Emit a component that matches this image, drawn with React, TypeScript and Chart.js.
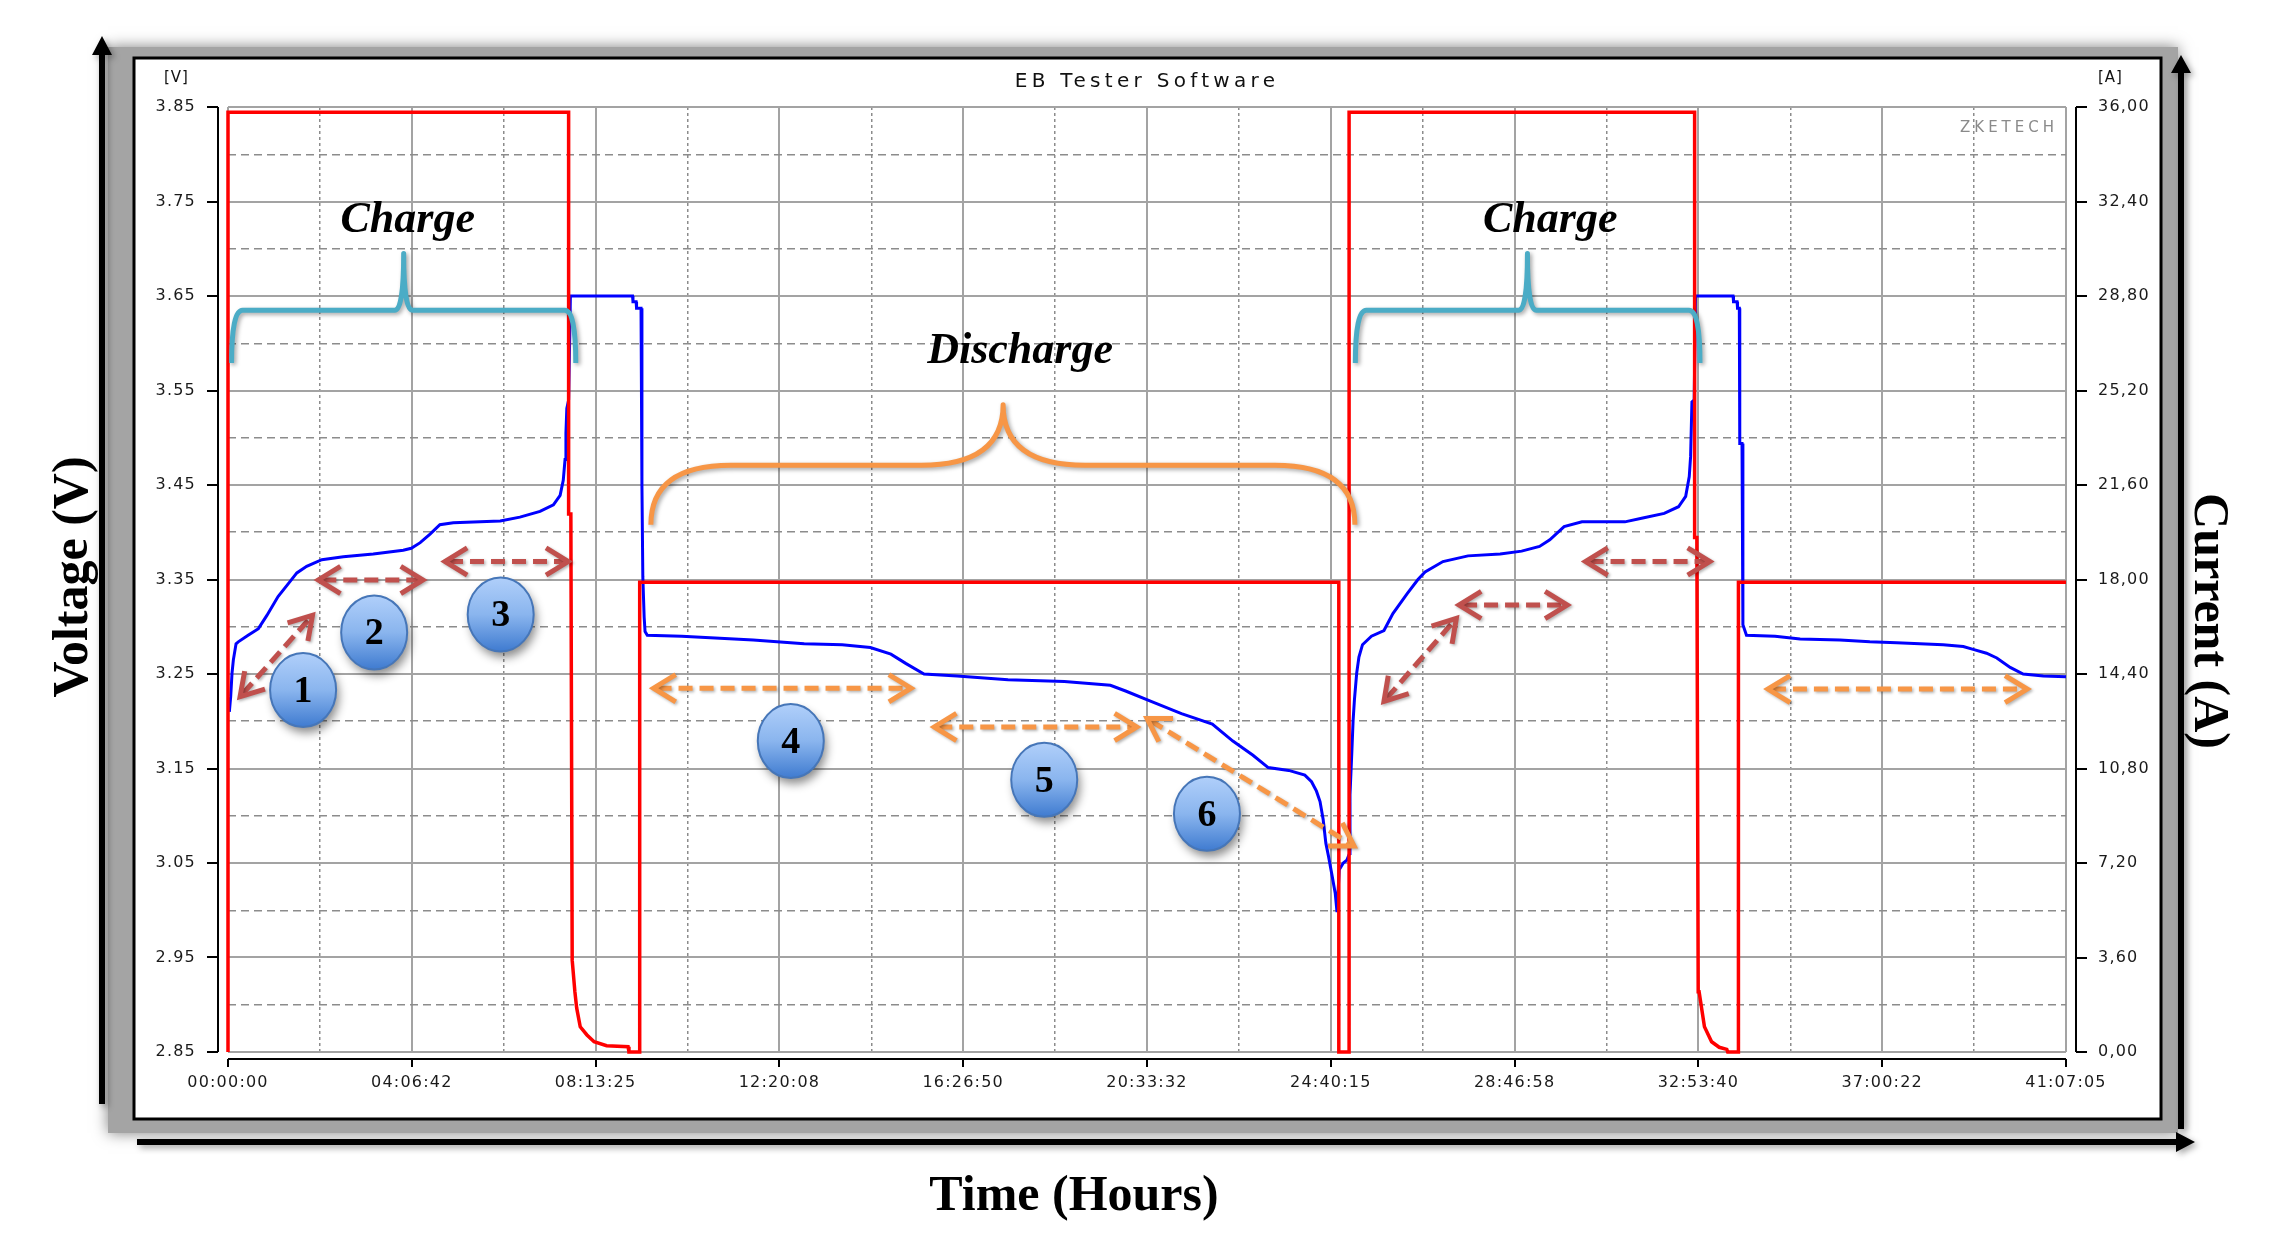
import React, { useEffect, useRef } from "react";
import { Chart, registerables } from "chart.js";

Chart.register(...registerables);

const W = 2280;
const H = 1240;

// ---------------- data ----------------
const TIME_TICK_LABELS = [
  "00:00:00", "04:06:42", "08:13:25", "12:20:08", "16:26:50", "20:33:32",
  "24:40:15", "28:46:58", "32:53:40", "37:00:22", "41:07:05",
];
const VOLT_TICKS = [2.85, 2.95, 3.05, 3.15, 3.25, 3.35, 3.45, 3.55, 3.65, 3.75, 3.85];
const CURRENT_TICKS = [0, 3.6, 7.2, 10.8, 14.4, 18, 21.6, 25.2, 28.8, 32.4, 36];

// voltage trace (hours, volts)
const VOLT_TIME_H = [
  0.03, 0.06, 0.09, 0.12, 0.18, 0.23, 0.45, 0.68, 0.87, 1.12, 1.39, 1.54, 1.76, 2.10, 2.58, 3.25,
  3.92, 4.10, 4.30, 4.52, 4.74, 5.04, 6.09, 6.53, 6.98, 7.28, 7.43, 7.50, 7.54, 7.56, 7.58, 7.62,
  7.66, 9.05, 9.06, 9.13, 9.14, 9.24, 9.26, 9.28, 9.31, 9.33, 9.38, 10.15, 11.75, 12.89, 13.74,
  14.37, 14.83, 15.17, 15.57, 16.31, 17.45, 18.71, 19.74, 20.08, 20.65, 21.33, 22.02, 22.48,
  22.93, 23.27, 23.73, 24.09, 24.24, 24.35, 24.43, 24.50, 24.56, 24.62, 24.69, 24.77, 24.81,
  24.86, 24.95, 25.03, 25.09, 25.10, 25.14, 25.17, 25.20, 25.25, 25.30, 25.38, 25.58, 25.86,
  26.06, 26.38, 26.62, 26.78, 27.18, 27.74, 28.46, 28.94, 29.34, 29.57, 29.89, 30.29, 31.25,
  31.65, 32.13, 32.45, 32.61, 32.69, 32.72, 32.75, 32.80, 32.83, 33.67, 33.68, 33.76, 33.77,
  33.81, 33.82, 33.87, 33.89, 33.97, 34.61, 35.17, 36.06, 36.73, 37.33, 38.37, 38.82, 39.04,
  39.34, 39.57, 39.87, 40.16, 40.61, 41.118,
];
const VOLT_V = [
  3.210, 3.226, 3.251, 3.265, 3.282, 3.284, 3.291, 3.298, 3.312, 3.332, 3.348, 3.357, 3.364, 3.371, 3.374, 3.377,
  3.381, 3.383, 3.389, 3.398, 3.408, 3.410, 3.412, 3.416, 3.422, 3.429, 3.439, 3.455, 3.477, 3.505, 3.531, 3.540,
  3.650, 3.650, 3.644, 3.644, 3.637, 3.637, 3.450, 3.353, 3.310, 3.295, 3.291, 3.290, 3.286, 3.282, 3.281,
  3.278, 3.271, 3.261, 3.250, 3.248, 3.244, 3.242, 3.238, 3.232, 3.221, 3.208, 3.197, 3.179,
  3.164, 3.151, 3.148, 3.143, 3.136, 3.126, 3.115, 3.096, 3.071, 3.057, 3.039, 3.018, 2.998,
  3.043, 3.050, 3.053, 3.060, 3.122, 3.166, 3.201, 3.223, 3.251, 3.268, 3.281, 3.290, 3.296,
  3.314, 3.335, 3.350, 3.358, 3.369, 3.375, 3.377, 3.380, 3.385, 3.392, 3.406, 3.411, 3.411,
  3.415, 3.420, 3.427, 3.438, 3.459, 3.480, 3.538, 3.540, 3.650, 3.650, 3.644, 3.644, 3.637,
  3.637, 3.494, 3.494, 3.302, 3.291, 3.290, 3.287, 3.286, 3.284, 3.283, 3.281, 3.279, 3.276,
  3.272, 3.267, 3.257, 3.250, 3.248, 3.247,
];

// current trace (hours, amps)
const CURR_TIME_H = [
  0, 0, 7.62, 7.62, 7.67, 7.70, 7.76, 7.80, 7.88, 8.03, 8.19, 8.47, 8.95, 8.97, 9.21, 9.21,
  24.85, 24.85, 25.08, 25.08, 32.81, 32.81, 32.86, 32.89, 32.91, 33.03, 33.19, 33.36, 33.53,
  33.55, 33.79, 33.79, 41.118,
];
const CURR_A = [
  0, 35.8, 35.8, 20.5, 20.5, 3.5, 2.3, 1.68, 0.96, 0.65, 0.39, 0.24, 0.2, 0, 0, 17.9,
  17.9, 0, 0, 35.8, 35.8, 19.6, 19.6, 2.3, 2.3, 0.96, 0.39, 0.18, 0.1,
  0, 0, 17.9, 17.9,
];

// annotation anchors (in data units: hours / volts)
const PHASE_LABELS = [
  { text: "Charge", t: 4.02, v: 3.718 },
  { text: "Charge", t: 29.58, v: 3.718 },
  { text: "Discharge", t: 17.72, v: 3.579 },
];
const BRACES = [
  { t1: 0.08, t2: 7.78, tm: 3.93, vBase: 3.635, vEnd: 3.579, vTip: 3.695, kind: "charge" },
  { t1: 25.22, t2: 32.93, tm: 29.07, vBase: 3.635, vEnd: 3.579, vTip: 3.695, kind: "charge" },
  { t1: 9.46, t2: 25.21, tm: 17.34, vBase: 3.471, vEnd: 3.408, vTip: 3.535, kind: "discharge" },
];
const ARROWS = [
  { t1: 0.27, v1: 3.226, t2: 1.89, v2: 3.312, kind: "charge" },
  { t1: 2.02, v1: 3.3495, t2: 4.36, v2: 3.3495, kind: "charge" },
  { t1: 4.855, v1: 3.369, t2: 7.61, v2: 3.369, kind: "charge" },
  { t1: 25.86, v1: 3.221, t2: 27.48, v2: 3.309, kind: "charge" },
  { t1: 27.54, v1: 3.323, t2: 29.96, v2: 3.323, kind: "charge" },
  { t1: 30.37, v1: 3.369, t2: 33.15, v2: 3.369, kind: "charge" },
  { t1: 9.52, v1: 3.235, t2: 15.28, v2: 3.235, kind: "discharge" },
  { t1: 15.8, v1: 3.194, t2: 20.33, v2: 3.194, kind: "discharge" },
  { t1: 20.56, v1: 3.203, t2: 25.19, v2: 3.068, kind: "discharge" },
  { t1: 34.45, v1: 3.234, t2: 40.25, v2: 3.234, kind: "discharge" },
];
const MARKERS = [
  { n: "1", t: 1.68, v: 3.233 },
  { n: "2", t: 3.27, v: 3.294 },
  { n: "3", t: 6.1, v: 3.313 },
  { n: "4", t: 12.59, v: 3.179 },
  { n: "5", t: 18.26, v: 3.138 },
  { n: "6", t: 21.9, v: 3.102 },
];

// ---------------- helpers ----------------
const hms = (s: string) => {
  const [h, m, sec] = s.split(":").map(Number);
  return h + m / 60 + sec / 3600;
};
const TIME_TICKS = TIME_TICK_LABELS.map(hms);
const T_MAX = TIME_TICKS[TIME_TICKS.length - 1];
const midpoints = (a: number[]) => a.slice(1).map((v, i) => (v + a[i]) / 2);
const TIME_MINOR = midpoints(TIME_TICKS);
const VOLT_MINOR = midpoints(VOLT_TICKS);

const TEAL = "#4bacc6";
const ORANGE = "#f79646";
const DARKRED = "#c0504d";

const TICK_FONT = { family: "'DejaVu Sans', sans-serif", size: 16 };
const SERIF = "'Liberation Serif', 'Times New Roman', serif";

function drawBrace(ctx: any, x1: number, x2: number, xm: number, yB: number, yE: number, yT: number, cw: number, mw: number, color: string) {
  ctx.save();
  ctx.strokeStyle = color;
  ctx.lineWidth = 5;
  ctx.lineCap = "butt";
  ctx.lineJoin = "round";
  ctx.shadowColor = "rgba(0,0,0,0.35)";
  ctx.shadowBlur = 4;
  ctx.shadowOffsetX = 2;
  ctx.shadowOffsetY = 2;
  ctx.beginPath();
  ctx.moveTo(x1, yE);
  ctx.quadraticCurveTo(x1, yB, x1 + cw, yB);
  ctx.lineTo(xm - mw, yB);
  ctx.quadraticCurveTo(xm, yB, xm, yT);
  ctx.quadraticCurveTo(xm, yB, xm + mw, yB);
  ctx.lineTo(x2 - cw, yB);
  ctx.quadraticCurveTo(x2, yB, x2, yE);
  ctx.stroke();
  ctx.restore();
}

function drawDoubleArrow(ctx: any, x1: number, y1: number, x2: number, y2: number, color: string) {
  const ang = Math.atan2(y2 - y1, x2 - x1);
  const L = 26;
  const A = 0.55;
  ctx.save();
  ctx.strokeStyle = color;
  ctx.lineWidth = 5;
  ctx.shadowColor = "rgba(0,0,0,0.3)";
  ctx.shadowBlur = 3;
  ctx.shadowOffsetX = 1.5;
  ctx.shadowOffsetY = 1.5;
  ctx.setLineDash([14, 7]);
  ctx.beginPath();
  ctx.moveTo(x1 + Math.cos(ang) * 4, y1 + Math.sin(ang) * 4);
  ctx.lineTo(x2 - Math.cos(ang) * 4, y2 - Math.sin(ang) * 4);
  ctx.stroke();
  ctx.setLineDash([]);
  ctx.lineJoin = "miter";
  ctx.lineCap = "butt";
  const head = (px: number, py: number, dir: number) => {
    ctx.beginPath();
    ctx.moveTo(px + L * Math.cos(dir + A), py + L * Math.sin(dir + A));
    ctx.lineTo(px, py);
    ctx.lineTo(px + L * Math.cos(dir - A), py + L * Math.sin(dir - A));
    ctx.stroke();
  };
  head(x1, y1, ang);
  head(x2, y2, ang + Math.PI);
  ctx.restore();
}

function drawMarker(ctx: any, cx: number, cy: number, label: string) {
  const rx = 33;
  const ry = 37;
  ctx.save();
  ctx.shadowColor = "rgba(0,0,0,0.45)";
  ctx.shadowBlur = 10;
  ctx.shadowOffsetX = 3;
  ctx.shadowOffsetY = 6;
  const g = ctx.createLinearGradient(cx, cy - ry, cx, cy + ry);
  g.addColorStop(0, "#b0cffa");
  g.addColorStop(0.5, "#8ab5ee");
  g.addColorStop(1, "#3f7bd0");
  ctx.fillStyle = g;
  ctx.beginPath();
  ctx.ellipse(cx, cy, rx, ry, 0, 0, Math.PI * 2);
  ctx.fill();
  ctx.shadowColor = "rgba(0,0,0,0)";
  ctx.lineWidth = 2;
  ctx.strokeStyle = "#4676b8";
  ctx.stroke();
  ctx.fillStyle = "#000";
  ctx.font = `bold 38px ${SERIF}`;
  (ctx as any).letterSpacing = "0px";
  ctx.textAlign = "center";
  ctx.textBaseline = "middle";
  ctx.fillText(label, cx, cy + 2);
  ctx.restore();
}

const decorPlugin = {
  id: "decor",
  beforeDraw(chart: any) {
    const ctx = chart.ctx;
    const a = chart.chartArea;
    const bl = a.left - 94;
    const bt = a.top - 49;
    const br = a.right + 95;
    const bb = a.bottom + 67;
    ctx.save();
    ctx.fillStyle = "#ffffff";
    ctx.fillRect(0, 0, chart.width, chart.height);
    // gray shadow band around the frame
    ctx.shadowColor = "rgba(0,0,0,0.5)";
    ctx.shadowBlur = 14;
    ctx.fillStyle = "#a4a4a4";
    ctx.fillRect(bl - 26, bt - 11, br + 17 - (bl - 26), bb + 14 - (bt - 11));
    ctx.shadowColor = "rgba(0,0,0,0)";
    ctx.shadowBlur = 0;
    ctx.fillStyle = "#ffffff";
    ctx.fillRect(bl, bt, br - bl, bb - bt);
    ctx.lineWidth = 3;
    ctx.strokeStyle = "#000";
    ctx.strokeRect(bl, bt, br - bl, bb - bt);
    // black axis arrows
    ctx.shadowColor = "rgba(0,0,0,0.35)";
    ctx.shadowBlur = 6;
    ctx.shadowOffsetX = 3;
    ctx.shadowOffsetY = 3;
    ctx.fillStyle = "#000";
    // left arrow
    const lx = bl - 32;
    ctx.beginPath();
    ctx.moveTo(lx - 3, bb - 15);
    ctx.lineTo(lx - 3, bt - 3);
    ctx.lineTo(lx - 10, bt - 3);
    ctx.lineTo(lx, bt - 22);
    ctx.lineTo(lx + 10, bt - 3);
    ctx.lineTo(lx + 3, bt - 3);
    ctx.lineTo(lx + 3, bb - 15);
    ctx.closePath();
    ctx.fill();
    // bottom arrow
    const by = bb + 23;
    ctx.beginPath();
    ctx.moveTo(bl + 3, by - 3);
    ctx.lineTo(br + 15, by - 3);
    ctx.lineTo(br + 15, by - 10);
    ctx.lineTo(br + 34, by);
    ctx.lineTo(br + 15, by + 10);
    ctx.lineTo(br + 15, by + 3);
    ctx.lineTo(bl + 3, by + 3);
    ctx.closePath();
    ctx.fill();
    // right arrow
    const rx = br + 20;
    ctx.beginPath();
    ctx.moveTo(rx - 3, bb + 10);
    ctx.lineTo(rx - 3, bt + 15);
    ctx.lineTo(rx - 10, bt + 15);
    ctx.lineTo(rx, bt - 3);
    ctx.lineTo(rx + 10, bt + 15);
    ctx.lineTo(rx + 3, bt + 15);
    ctx.lineTo(rx + 3, bb + 10);
    ctx.closePath();
    ctx.fill();
    ctx.restore();
    (ctx as any).letterSpacing = "1.2px";
  },
  afterDatasetsDraw(chart: any) {
    const ctx = chart.ctx;
    const sx = chart.scales.x;
    const sy = chart.scales.y;
    const px = (t: number) => sx.getPixelForValue(t);
    const py = (v: number) => sy.getPixelForValue(v);
    BRACES.forEach((b) => {
      const charge = b.kind === "charge";
      drawBrace(ctx, px(b.t1), px(b.t2), px(b.tm), py(b.vBase), py(b.vEnd), py(b.vTip),
        charge ? 11 : 80, charge ? 9 : 82, charge ? TEAL : ORANGE);
    });
    ARROWS.forEach((ar) => {
      drawDoubleArrow(ctx, px(ar.t1), py(ar.v1), px(ar.t2), py(ar.v2), ar.kind === "charge" ? DARKRED : ORANGE);
    });
    MARKERS.forEach((m) => drawMarker(ctx, px(m.t), py(m.v), m.n));
    ctx.save();
    (ctx as any).letterSpacing = "0px";
    ctx.fillStyle = "#000";
    ctx.font = `italic bold 44px ${SERIF}`;
    ctx.textAlign = "center";
    ctx.textBaseline = "alphabetic";
    PHASE_LABELS.forEach((p) => ctx.fillText(p.text, px(p.t), py(p.v)));
    ctx.restore();
  },
  afterDraw(chart: any) {
    const ctx = chart.ctx;
    const a = chart.chartArea;
    const sx = chart.scales.x;
    const sy = chart.scales.y;
    const sy1 = chart.scales.y1;
    ctx.save();
    // detached axis lines with tick marks
    ctx.strokeStyle = "#000";
    ctx.lineWidth = 2;
    ctx.beginPath();
    const lx = a.left - 10;
    ctx.moveTo(lx, a.top);
    ctx.lineTo(lx, a.bottom);
    VOLT_TICKS.forEach((v) => {
      const y = Math.round(sy.getPixelForValue(v));
      ctx.moveTo(lx - 11, y);
      ctx.lineTo(lx, y);
    });
    const rx = a.right + 10;
    ctx.moveTo(rx, a.top);
    ctx.lineTo(rx, a.bottom);
    CURRENT_TICKS.forEach((v) => {
      const y = Math.round(sy1.getPixelForValue(v));
      ctx.moveTo(rx, y);
      ctx.lineTo(rx + 11, y);
    });
    const by = a.bottom + 7;
    ctx.moveTo(a.left, by);
    ctx.lineTo(a.right, by);
    TIME_TICKS.forEach((t) => {
      const x = Math.round(sx.getPixelForValue(t));
      ctx.moveTo(x, by);
      ctx.lineTo(x, by + 8);
    });
    ctx.stroke();

    // header texts
    ctx.fillStyle = "#111";
    ctx.textBaseline = "middle";
    ctx.font = "20px 'DejaVu Sans', sans-serif";
    (ctx as any).letterSpacing = "4.3px";
    ctx.textAlign = "center";
    ctx.fillText("EB Tester Software", (a.left + a.right) / 2, a.top - 25);
    ctx.font = "15px 'DejaVu Sans', sans-serif";
    (ctx as any).letterSpacing = "1px";
    ctx.textAlign = "left";
    ctx.fillText("[V]", a.left - 64, a.top - 29);
    ctx.fillText("[A]", a.right + 32, a.top - 29);
    ctx.fillStyle = "#8a8a8a";
    ctx.font = "15px 'DejaVu Sans', sans-serif";
    (ctx as any).letterSpacing = "4px";
    ctx.textAlign = "right";
    ctx.fillText("ZKETECH", a.right - 8, a.top + 21);

    // axis titles
    (ctx as any).letterSpacing = "0px";
    ctx.fillStyle = "#000";
    ctx.font = `bold 50px ${SERIF}`;
    ctx.textAlign = "center";
    ctx.save();
    ctx.translate(a.left - 154, 577);
    ctx.rotate(-Math.PI / 2);
    ctx.fillText("Voltage (V)", 0, 0);
    ctx.restore();
    ctx.save();
    ctx.translate(a.right + 142, 621);
    ctx.rotate(Math.PI / 2);
    ctx.fillText("Current (A)", 0, 0);
    ctx.restore();
    ctx.fillText("Time (Hours)", (a.left + a.right) / 2 - 73, a.bottom + 145);
    ctx.restore();
  },
};

export default function App() {
  const ref = useRef<HTMLCanvasElement | null>(null);
  useEffect(() => {
    if (!ref.current) return;
    const voltage = VOLT_TIME_H.map((t, i) => ({ x: t, y: VOLT_V[i] }));
    const current = CURR_TIME_H.map((t, i) => ({ x: t, y: CURR_A[i] }));
    const majorGrid = { color: "#a3a3a3", lineWidth: 2, drawTicks: false };
    const chart = new Chart(ref.current, {
      type: "line",
      data: {
        datasets: [
          {
            label: "Current",
            data: current,
            yAxisID: "y1",
            xAxisID: "x",
            borderColor: "#ff0000",
            borderWidth: 3.5,
            pointRadius: 0,
            tension: 0,
            fill: false,
            clip: 6,
          },
          {
            label: "Voltage",
            data: voltage,
            yAxisID: "y",
            xAxisID: "x",
            borderColor: "#0000ff",
            borderWidth: 3,
            pointRadius: 0,
            tension: 0,
            fill: false,
            clip: 6,
          },
        ],
      },
      options: {
        responsive: false,
        animation: false,
        devicePixelRatio: 1,
        events: [],
        layout: { padding: { top: 107, left: 0, right: 0, bottom: 0 } },
        plugins: { legend: { display: false }, tooltip: { enabled: false }, title: { display: false } },
        scales: {
          x: {
            type: "linear",
            position: "bottom",
            min: 0,
            max: T_MAX,
            afterBuildTicks: (s: any) => { s.ticks = TIME_TICKS.map((v) => ({ value: v })); },
            afterFit: (s: any) => { s.height = H - 1052; },
            ticks: {
              autoSkip: false,
              maxRotation: 0,
              minRotation: 0,
              padding: 21,
              color: "#1a1a1a",
              font: TICK_FONT,
              callback: (_v: any, i: number) => TIME_TICK_LABELS[i],
            },
            grid: majorGrid,
            border: { display: false },
          },
          xm: {
            type: "linear",
            position: "bottom",
            min: 0,
            max: T_MAX,
            afterBuildTicks: (s: any) => { s.ticks = TIME_MINOR.map((v) => ({ value: v })); },
            afterFit: (s: any) => { s.height = 0; },
            ticks: { display: false, autoSkip: false },
            grid: { color: "#8c8c8c", lineWidth: 1.5, drawTicks: false, borderDash: [3, 3] },
            border: { display: false, dash: [3, 3] },
          },
          y: {
            type: "linear",
            position: "left",
            min: 2.85,
            max: 3.85,
            afterBuildTicks: (s: any) => { s.ticks = VOLT_TICKS.map((v) => ({ value: v })); },
            afterFit: (s: any) => { s.width = 228; },
            ticks: {
              autoSkip: false,
              padding: 32,
              color: "#1a1a1a",
              font: TICK_FONT,
              callback: (v: any) => Number(v).toFixed(2),
            },
            grid: majorGrid,
            border: { display: false },
          },
          ym: {
            type: "linear",
            position: "left",
            min: 2.85,
            max: 3.85,
            afterBuildTicks: (s: any) => { s.ticks = VOLT_MINOR.map((v) => ({ value: v })); },
            afterFit: (s: any) => { s.width = 0; },
            ticks: { display: false, autoSkip: false },
            grid: { color: "#8c8c8c", lineWidth: 1.5, drawTicks: false, borderDash: [8, 5] },
            border: { display: false, dash: [8, 5] },
          },
          y1: {
            type: "linear",
            position: "right",
            min: 0,
            max: 36,
            afterBuildTicks: (s: any) => { s.ticks = CURRENT_TICKS.map((v) => ({ value: v })); },
            afterFit: (s: any) => { s.width = W - 2066; },
            ticks: {
              autoSkip: false,
              padding: 32,
              color: "#1a1a1a",
              font: TICK_FONT,
              callback: (v: any) => Number(v).toFixed(2).replace(".", ","),
            },
            grid: { drawOnChartArea: false, drawTicks: false },
            border: { display: false },
          },
        },
      },
      plugins: [decorPlugin],
    } as any);
    return () => chart.destroy();
  }, []);
  return (
    <div style={{ position: "absolute", left: 0, top: 0, width: W, height: H, background: "#fff" }}>
      <canvas ref={ref} width={W} height={H} style={{ width: W, height: H, display: "block" }} />
    </div>
  );
}
